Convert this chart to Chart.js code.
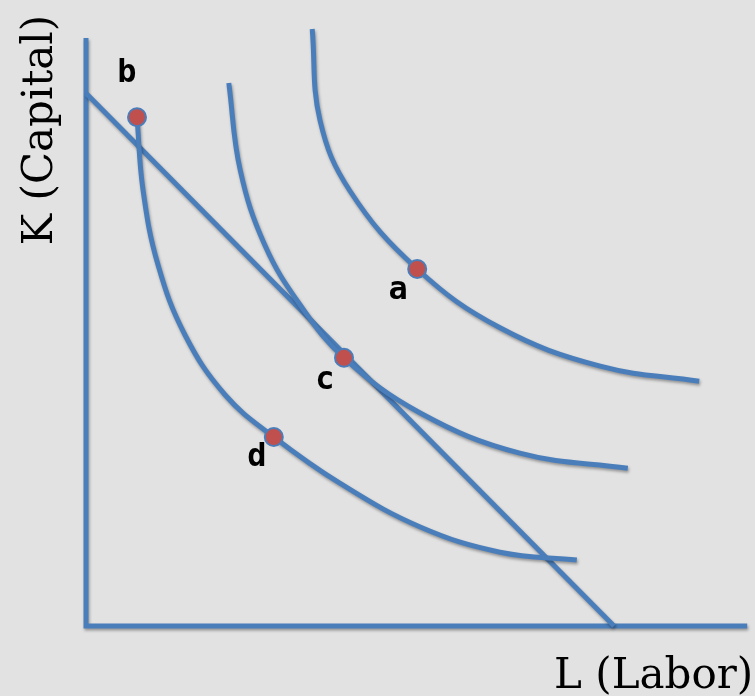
<!DOCTYPE html>
<html lang="en">
<head>
  <meta charset="UTF-8">
  <title>Isoquants and isocost</title>
  <style>
    body {
      margin: 0;
      padding: 0;
      background-color: #e2e2e2;
    }
    canvas {
      display: block;
    }
  </style>
  <script src="https://cdn.jsdelivr.net/npm/chart.js"></script>
</head>
<body>
  <canvas id="isoChart" width="755" height="696"></canvas>
  <script>
    // values (L = labor, K = capital)
    const axisL = [0, 0, 11.02];
    const axisK = [9.8, 0, 0];

    const isocostL = [0, 8.8];
    const isocostK = [8.88, 0];

    const isoLowL = [0.85, 0.95, 1.2, 1.65, 2.32, 3.13, 4.23, 5.57, 6.9, 8.18];
    const isoLowK = [8.48, 7.27, 6.02, 4.85, 3.85, 3.15, 2.38, 1.65, 1.23, 1.1];

    const isoMidL = [2.38, 2.57, 2.98, 3.57, 4.3, 5.57, 7.23, 9.03];
    const isoMidK = [9.05, 7.6, 6.35, 5.35, 4.47, 3.55, 2.88, 2.63];

    const isoHighL = [3.77, 3.9, 4.4, 5.52, 6.9, 8.57, 10.22];
    const isoHighK = [9.95, 8.43, 7.25, 5.95, 4.97, 4.33, 4.08];

    const pointNames = ['a', 'b', 'c', 'd'];
    const pointL = [5.52, 0.85, 4.3, 3.13];
    const pointK = [5.95, 8.48, 4.47, 3.15];

    // label offsets in pixels from each point
    const labelOffsets = [[-19, 22], [-10, -44], [-19, 23], [-17, 21]];

    const xTitle = 'L (Labor)';
    const yTitle = 'K (Capital)';

    const blue = '#4a7ebb';
    const red = '#c0504d';
    const unit = 60; // pixels per unit
    const originX = 86, originY = 626;

    const toXY = (xs, ys) => xs.map((x, i) => ({ x: x, y: ys[i] }));

    const lineSet = (data, smooth) => ({
      data: data,
      showLine: true,
      borderColor: blue,
      borderWidth: 5,
      borderCapStyle: 'butt',
      pointRadius: 0,
      tension: smooth ? 0.4 : 0,
      clip: false,
      shadow: true,
    });

    const shadowPlugin = {
      id: 'shadow',
      beforeDatasetDraw(chart, args) {
        const ctx = chart.ctx;
        ctx.save();
        if (args.meta._dataset.shadow) {
          ctx.shadowColor = 'rgba(0, 0, 0, 0.35)';
          ctx.shadowBlur = 3;
          ctx.shadowOffsetX = 1;
          ctx.shadowOffsetY = 2;
        }
      },
      afterDatasetDraw(chart) {
        chart.ctx.restore();
      },
    };

    const textPlugin = {
      id: 'texts',
      afterDraw(chart) {
        const ctx = chart.ctx;
        const xs = chart.scales.x, ys = chart.scales.y;
        ctx.save();
        ctx.fillStyle = '#000';

        // point labels
        ctx.font = 'bold 32px "DejaVu Sans Mono", monospace';
        ctx.textAlign = 'center';
        ctx.textBaseline = 'middle';
        pointNames.forEach((name, i) => {
          const px = xs.getPixelForValue(pointL[i]) + labelOffsets[i][0];
          const py = ys.getPixelForValue(pointK[i]) + labelOffsets[i][1];
          ctx.fillText(name, px, py);
        });

        // axis titles
        ctx.font = '42px "DejaVu Serif", serif';
        ctx.textBaseline = 'alphabetic';
        ctx.textAlign = 'left';
        ctx.fillText(xTitle, 554, 688);

        ctx.translate(52, 130);
        ctx.rotate(-Math.PI / 2);
        ctx.textAlign = 'center';
        ctx.fillText(yTitle, 0, 0);
        ctx.restore();
      },
    };

    const ctx = document.getElementById('isoChart').getContext('2d');
    const isoChart = new Chart(ctx, {
      type: 'scatter',
      data: {
        datasets: [
          {
            data: toXY(pointL, pointK),
            pointRadius: 9,
            pointBackgroundColor: red,
            pointBorderColor: blue,
            pointBorderWidth: 2,
            showLine: false,
            clip: false,
          },
          lineSet(toXY(isoLowL, isoLowK), true),
          lineSet(toXY(isoMidL, isoMidK), true),
          lineSet(toXY(isoHighL, isoHighK), true),
          lineSet(toXY(isocostL, isocostK), false),
          lineSet(toXY(axisL, axisK), false),
        ],
      },
      options: {
        responsive: false,
        animation: false,
        layout: { padding: 0, autoPadding: false },
        plugins: {
          legend: { display: false },
          tooltip: { enabled: false },
        },
        scales: {
          x: {
            type: 'linear',
            display: false,
            min: -originX / unit,
            max: (755 - originX) / unit,
          },
          y: {
            type: 'linear',
            display: false,
            min: -(696 - originY) / unit,
            max: originY / unit,
          },
        },
      },
      plugins: [shadowPlugin, textPlugin],
    });
  </script>
</body>
</html>
